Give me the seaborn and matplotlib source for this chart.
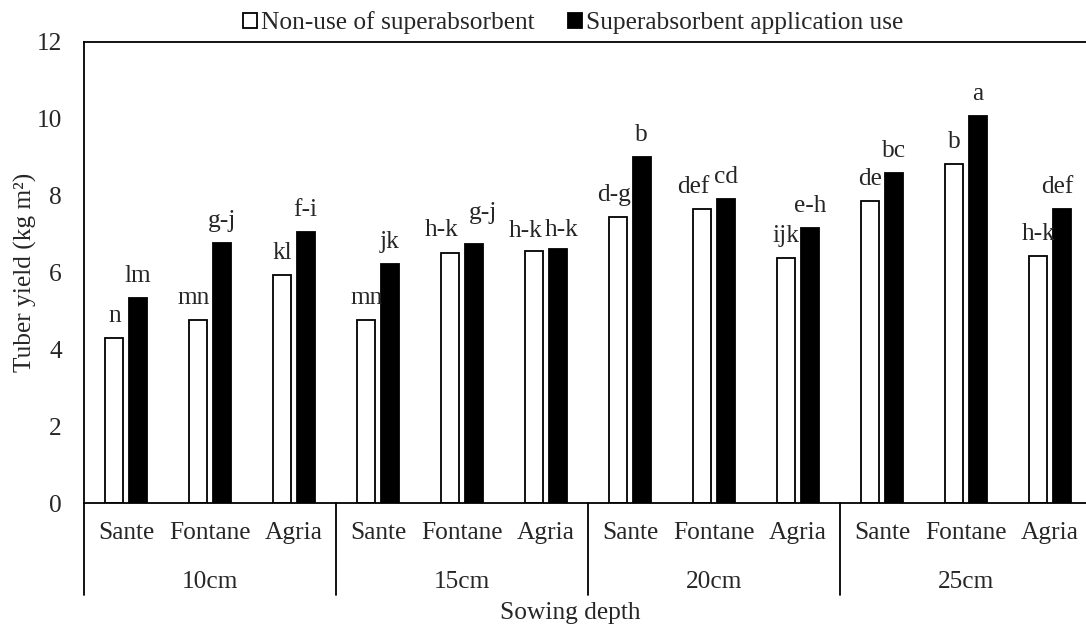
import pandas as pd
import matplotlib.pyplot as plt
import seaborn as sns
from matplotlib.patches import Patch
from matplotlib.lines import Line2D

# ================= DATA =================
depths = ["10cm", "15cm", "20cm", "25cm"]
cultivars = ["Sante", "Fontane", "Agria"]
treatments = ["Non-use of superabsorbent", "Superabsorbent application use"]

no_sap = [4.29, 4.76, 5.93, 4.76, 6.52, 6.57, 7.44, 7.65, 6.37, 7.86, 8.83, 6.43]
with_sap = [5.33, 6.76, 7.06, 6.21, 6.73, 6.61, 9.00, 7.92, 7.15, 8.58, 10.07, 7.66]

letters_no = ["n", "mn", "kl", "mn", "h-k", "h-k", "d-g", "def", "ijk", "de", "b", "h-k"]
letters_with = ["lm", "g-j", "f-i", "jk", "g-j", "h-k", "b", "cd", "e-h", "bc", "a", "def"]

# ================= BUILD TABLE =================
slots = [f"{d} {c}" for d in depths for c in cultivars]
df = pd.DataFrame({
    "slot": slots * 2,
    "treatment": [treatments[0]] * len(slots) + [treatments[1]] * len(slots),
    "yield": no_sap + with_sap,
})

# ================= STYLE =================
sns.set_style("white")
plt.rcParams["font.family"] = ["Liberation Serif", "DejaVu Serif"]
FS = 18.3
PAD = 8

fig = plt.figure(figsize=(10.86, 6.27), dpi=100)
ax = fig.add_axes([84 / 1086, 124 / 627, 1008 / 1086, 461 / 627])

sns.barplot(data=df, x="slot", y="yield", hue="treatment", order=slots,
            hue_order=treatments, palette=["white", "black"], saturation=1,
            width=0.56, gap=0.24, edgecolor="black", linewidth=1.3,
            legend=False, ax=ax)

# letter labels; a few are nudged sideways (in points) so neighbours don't collide
nudge_no = {1: (-3, 0), 4: (-6, 0), 5: (-6.5, -2), 6: (-3, 0), 7: (-6.5, 0)}
nudge_with = {4: (7, 7), 5: (3, -2), 11: (-3.5, 0)}
for cont, labs, nudge in [(ax.containers[0], letters_no, nudge_no),
                          (ax.containers[1], letters_with, nudge_with)]:
    texts = ax.bar_label(cont, labels=labs, padding=PAD, fontsize=FS)
    for i, t in enumerate(texts):
        dx, dy = nudge.get(i, (0, 0))
        t.xyann = (dx, PAD + dy)

ax.set_ylim(0, 12)
ax.set_yticks(range(0, 13, 2))
ax.set_xlim(-0.5, len(slots) - 0.5)
ax.set_xticks(range(len(slots)))
ax.set_xticklabels(cultivars * len(depths))
ax.tick_params(axis="both", length=0, labelsize=FS)
ax.tick_params(axis="x", pad=14)
ax.tick_params(axis="y", pad=16)
ax.set_xlabel("")
ax.set_ylabel("Tuber yield (kg m²)", fontsize=FS)
ax.yaxis.set_label_coords(-0.047, 0.5)

for s in ax.spines.values():
    s.set_color("black")
    s.set_linewidth(1.3)

# group separators and depth labels under the axis
trans = ax.get_xaxis_transform()
for i in range(len(depths) + 1):
    xb = i * len(cultivars) - 0.5
    ax.add_line(Line2D([xb, xb], [0, -0.2], transform=trans, color="black",
                       lw=1.3, clip_on=False))
for i, d in enumerate(depths):
    ax.text(i * len(cultivars) + 1, -0.171, d, transform=trans, ha="center",
            va="center", fontsize=FS)

fig.text(570 / 1086, 1 - 613 / 627, "Sowing depth", ha="center", va="center",
         fontsize=FS)

handles = [Patch(facecolor="white", edgecolor="black", lw=1.3),
           Patch(facecolor="black", edgecolor="black", lw=1.3)]
fig.legend(handles, treatments, loc="center", bbox_to_anchor=(573 / 1086, 1 - 23 / 627),
           ncol=2, frameon=False, fontsize=FS, handlelength=0.55, handleheight=0.55,
           handletextpad=0.15, columnspacing=1.3)

fig.savefig("out.png", dpi=100)
plt.close(fig)
